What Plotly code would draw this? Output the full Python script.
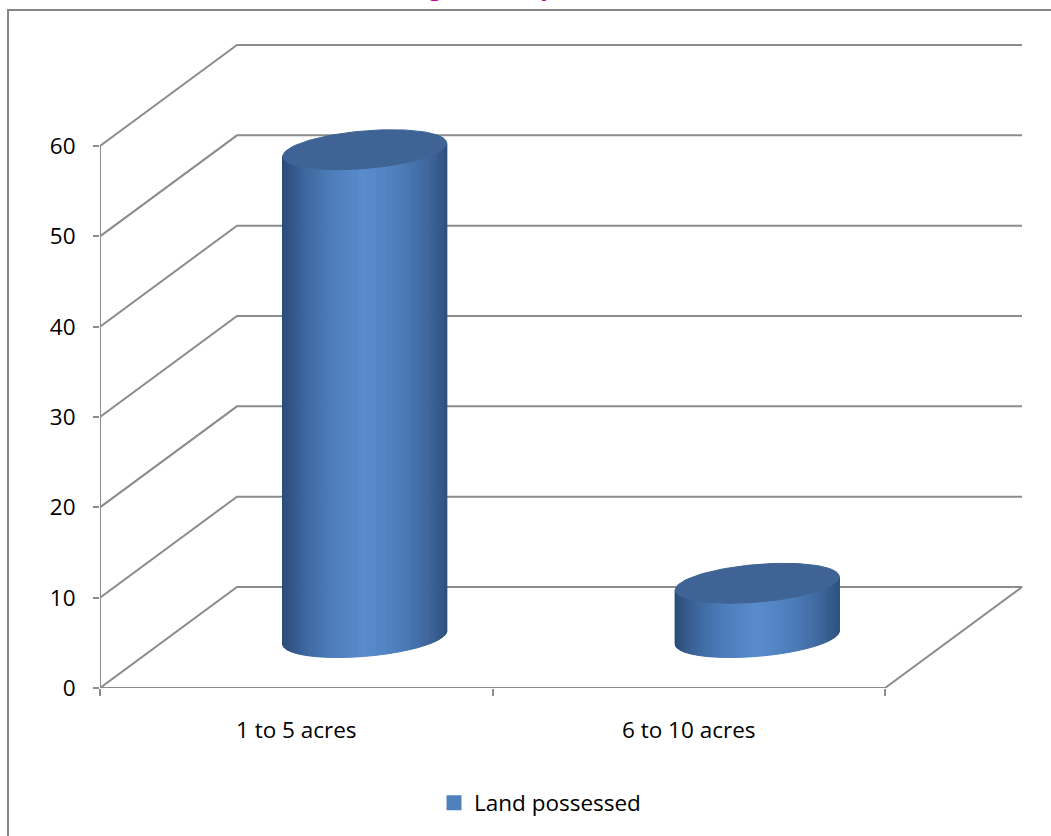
import numpy as np
import plotly.graph_objects as go

# ---------------- data ----------------
categories = ["1 to 5 acres", "6 to 10 acres"]
values = [54, 6]
series_name = "Land possessed"
y_ticks = [0, 10, 20, 30, 40, 50, 60]
title_text = "Fig 1: Land possessed"

# ---------------- 3D (oblique) projection settings ----------------
PX_PER_CAT = 392.5
PX_PER_VAL = 9.033
DX = 137 / PX_PER_CAT        # depth shift in category units
DY = 101 / PX_PER_VAL        # depth shift in value units
R = 0.197                    # cylinder radius (category units)
S = 0.198                    # cylinder radius (depth units)
NCAT = len(categories)
GRID = "#8C8C8C"
FONT_SIZE = 22.5

PLOT_L, PLOT_R, PLOT_T, PLOT_B = 100, 1030, 40, 688
XMAX = (PLOT_R - PLOT_L) / PX_PER_CAT
YMAX = (PLOT_B - PLOT_T) / PX_PER_VAL


def proj(x, v, d):
    return x + d * DX, v + d * DY


fig = go.Figure()

# ---------------- walls / gridlines ----------------
gx, gy = [], []
for v in y_ticks:
    pts = [proj(0, v, 0), proj(0, v, 1), proj(NCAT, v, 1)]
    if v == 0:
        pts += [proj(NCAT, v, 0), proj(0, v, 0)]
    for p in pts:
        gx.append(p[0]); gy.append(p[1])
    gx.append(None); gy.append(None)
p0, p1 = proj(0, 0, 0), proj(0, y_ticks[-1], 0)
gx += [p0[0], p1[0], None]; gy += [p0[1], p1[1], None]
fig.add_trace(go.Scatter(x=gx, y=gy, mode="lines", line=dict(color=GRID, width=2),
                         hoverinfo="skip", showlegend=False))

# ---------------- cylinders ----------------
stops = [(0.0, (43, 76, 120)), (0.12, (60, 100, 154)), (0.3, (77, 125, 187)),
         (0.5, (90, 139, 205)), (0.7, (78, 127, 189)), (0.88, (63, 104, 158)),
         (1.0, (48, 82, 128))]


def grad(u):
    for (a, ca), (b, cb) in zip(stops[:-1], stops[1:]):
        if u <= b:
            t = (u - a) / (b - a) if b > a else 0
            c = [round(ca[k] + t * (cb[k] - ca[k])) for k in range(3)]
            return "rgb(%d,%d,%d)" % tuple(c)
    return "rgb(%d,%d,%d)" % stops[-1][1]


N = 70
thR = np.arctan2(S * DX, R)
for i, (cat, val) in enumerate(zip(categories, values)):
    x0 = i + 0.5
    d0 = 0.5

    def ex(t):
        return x0 + R * np.cos(t) + (d0 + S * np.sin(t)) * DX

    def ey(t, v):
        return v + (d0 + S * np.sin(t)) * DY

    ths = np.linspace(thR - np.pi, thR, N + 1)
    xmin, xmax = ex(ths[0]), ex(ths[-1])
    for k in range(N):
        t1, t2 = ths[k], ths[k + 1]
        xs = [ex(t1), ex(t2), ex(t2), ex(t1), ex(t1)]
        ys = [ey(t1, 0), ey(t2, 0), ey(t2, val), ey(t1, val), ey(t1, 0)]
        u = ((ex(t1) + ex(t2)) / 2 - xmin) / (xmax - xmin)
        col = grad(u)
        fig.add_trace(go.Scatter(x=xs, y=ys, mode="lines", fill="toself", fillcolor=col,
                                 line=dict(color=col, width=1), hoverinfo="skip",
                                 showlegend=False))
    ta = np.linspace(0, 2 * np.pi, 121)
    fig.add_trace(go.Scatter(x=ex(ta), y=ey(ta, val), mode="lines", fill="toself",
                             fillcolor="#3E6394", line=dict(color="#3E6394", width=1),
                             hoverinfo="skip", showlegend=False))

# legend entry
fig.add_trace(go.Scatter(x=[None], y=[None], mode="markers", name=series_name,
                         marker=dict(symbol="square", size=15, color="#4F81BD")))


def px_x(p):
    return (p - PLOT_L) / (PLOT_R - PLOT_L)


def px_y(p):
    return (PLOT_B - p) / (PLOT_B - PLOT_T)


fig.update_layout(
    width=1051, height=836,
    margin=dict(l=PLOT_L, r=1051 - PLOT_R, t=PLOT_T, b=836 - PLOT_B),
    paper_bgcolor="white", plot_bgcolor="white",
    font=dict(family="Open Sans", size=FONT_SIZE, color="black"),
    showlegend=True,
    legend=dict(orientation="h", x=px_x(540), y=px_y(803), xanchor="center",
                yanchor="middle", font=dict(size=FONT_SIZE), itemwidth=30),
    xaxis=dict(range=[0, XMAX], showgrid=False, zeroline=False, showline=False,
               tickmode="array", tickvals=[i + 0.5 for i in range(NCAT)],
               ticktext=categories, ticks="", ticklabelstandoff=26,
               minor=dict(tick0=0, dtick=1, ticks="outside", ticklen=7,
                          tickcolor=GRID, tickwidth=2, showgrid=False),
               fixedrange=True),
    yaxis=dict(range=[0, YMAX], showgrid=False, zeroline=False, showline=False,
               tickmode="array", tickvals=y_ticks, ticks="outside", ticklen=6,
               tickcolor=GRID, tickwidth=2, ticklabelstandoff=13, fixedrange=True),
    shapes=[dict(type="path", xref="paper", yref="paper",
                 path="M %f %f L %f %f L %f %f" % (px_x(8), px_y(845), px_x(8), px_y(10),
                                                    px_x(1060), px_y(10)),
                 line=dict(color="#868686", width=2))],
    annotations=[dict(text="<b>%s</b>" % title_text, xref="paper", yref="paper",
                      x=px_x(535), y=px_y(4.5), xanchor="center", yanchor="bottom",
                      showarrow=False, font=dict(size=24, color="#CC0099"))],
)

fig.write_html("out.html", config={"displayModeBar": False},
               post_script="document.body.style.margin='0px';")
